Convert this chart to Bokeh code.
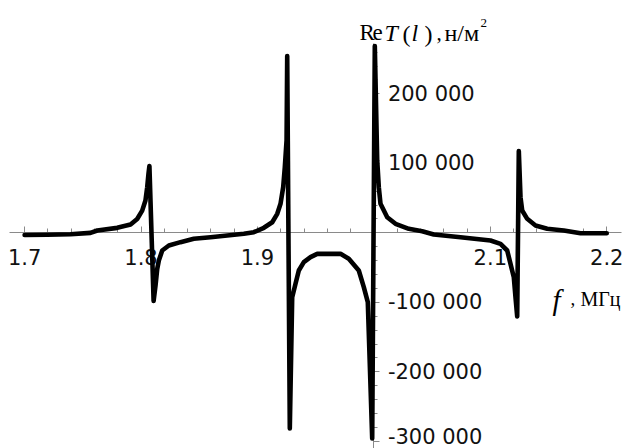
from bokeh.plotting import figure
from bokeh.models import (FixedTicker, CustomJSTickFormatter, Label, Range1d,
                          LinearAxis, ColumnDataSource)
from bokeh.embed import file_html
from bokeh.resources import INLINE

# Re T(l) [N/m^2] versus frequency f [MHz]
freq_mhz = [
    1.7000, 1.7194, 1.7394, 1.7566, 1.7624, 1.7795, 1.7910, 1.7967, 1.8010,
    1.8038, 1.8053, 1.8064, 1.8072, 1.8108, 1.8125, 1.8139, 1.8153, 1.8182,
    1.8239, 1.8339, 1.8453, 1.8597, 1.8740, 1.8883, 1.8969, 1.9055, 1.9127,
    1.9170, 1.9198, 1.9221, 1.9235, 1.9250, 1.92555, 1.92778, 1.92984,
    1.93268, 1.93551, 1.93981, 1.94556, 1.95131, 1.97133, 1.97845, 1.98704,
    1.99134, 1.99477, 1.99855, 2.00079, 2.00285, 2.00422, 2.00568, 2.01144,
    2.01857, 2.02999, 2.04150, 2.05146, 2.07439, 2.10016, 2.10875, 2.11450,
    2.11734, 2.12018, 2.12163, 2.12309, 2.12447, 2.12593, 2.12738, 2.13168,
    2.13881, 2.14886, 2.16312, 2.17746, 2.20000,
]
re_t = [
    -3000, -2800, -2000, 0, 3400, 7200, 12000, 20000, 32000,
    46600, 65700, 85000, 96000, -98000, -75000, -52000, -39800, -25400,
    -18200, -13400, -8600, -6300, -3800, -1400, 900, 7300, 15300,
    27400, 41800, 65700, 94500, 132900, 254500, -281600, -92600,
    -73300, -54200, -42200, -35000, -30200, -30200, -37300, -54200,
    -78200, -99800, -295900, 268900, 104100, 65700, 41800, 22500,
    13000, 5800, 2400, -2400, -6300, -11000, -15800, -25400,
    -44600, -63800, -92600, -120400, 117800, 51300, 32200, 20200,
    10600, 5800, 3400, -500, -500,
]

x_ticks = [1.7, 1.8, 1.9, 2.0, 2.1, 2.2]
x_tick_labels = ["1.7", "1.8", "1.9", "", "2.1", "2.2"]
x_minor = [round(1.7 + 0.02 * i, 2) for i in range(26)]

y_ticks = [-300000, -200000, -100000, 0, 100000, 200000]
y_tick_labels = ["-300 000", "-200 000", "-100 000", "", "100 000", "200 000"]
y_minor = [-300000 + 20000 * i for i in range(29)]

W, H = 630, 448
X_LO, X_HI = 1.6793, 2.2204
Y_LO, Y_HI = -310330, 334360


def at_px(px, py):
    """Canvas pixel position -> data coordinates (frame fills the canvas)."""
    return (X_LO + px / W * (X_HI - X_LO), Y_HI - py / H * (Y_HI - Y_LO))


p = figure(width=W, height=H, x_range=Range1d(X_LO, X_HI),
           y_range=Range1d(Y_LO, Y_HI), output_backend="svg",
           toolbar_location=None, x_axis_location=None, y_axis_location=None,
           min_border=0, outline_line_color=None,
           background_fill_color="white", border_fill_color="white")
p.grid.visible = False

label_js = """
const i = t.findIndex(v => Math.abs(v - tick) < 1e-6 * Math.max(1, Math.abs(v)));
return i >= 0 ? l[i] : "";
"""

axis_grey = "#8a8a8a"

xaxis = LinearAxis(
    fixed_location=0,
    ticker=FixedTicker(ticks=x_ticks, minor_ticks=x_minor),
    formatter=CustomJSTickFormatter(args=dict(t=x_ticks, l=x_tick_labels), code=label_js),
    bounds=(1.687, 2.213),
    axis_line_color=axis_grey, axis_line_width=1,
    major_tick_line_color=axis_grey, minor_tick_line_color=axis_grey,
    major_tick_in=6, major_tick_out=0, minor_tick_in=4, minor_tick_out=0,
    major_label_text_font="DejaVu Sans", major_label_text_font_size="21px",
    major_label_text_color="#111111", major_label_standoff=16,
)
p.add_layout(xaxis, "below")

yaxis = LinearAxis(
    fixed_location=2.0,
    ticker=FixedTicker(ticks=y_ticks, minor_ticks=y_minor),
    formatter=CustomJSTickFormatter(args=dict(t=y_ticks, l=y_tick_labels), code=label_js),
    bounds=(-312000, 272000),
    axis_line_color=axis_grey, axis_line_width=1,
    major_tick_line_color=axis_grey, minor_tick_line_color=axis_grey,
    major_tick_in=0, major_tick_out=6, minor_tick_in=0, minor_tick_out=4,
    major_label_text_font="DejaVu Sans", major_label_text_font_size="21px",
    major_label_text_color="#111111", major_label_standoff=8,
)
p.add_layout(yaxis, "right")

src = ColumnDataSource(dict(f=freq_mhz, t=re_t))
p.line("f", "t", source=src, line_color="black", line_width=4.6,
       line_join="round", line_cap="round", level="overlay")

serif = "Liberation Serif"


def put(text, px, py, size, style="normal"):
    x, y = at_px(px, py)
    p.add_layout(Label(x=x, y=y, text=text, text_font=serif,
                       text_font_size=f"{size}px", text_font_style=style,
                       text_color="black", text_align="left",
                       text_baseline="alphabetic"))


# y-axis title: Re T(l), н/м²
put("R", 359, 32, 23)
put("e", 372, 32, 23)
put("T", 384, 32, 24, "italic")
put("(", 402, 33, 24)
put("l", 411, 32, 24, "italic")
put(")", 424, 33, 24)
put(",", 436, 32, 21)
put("н/м", 444, 32, 24)
put("2", 480, 22, 13)

# x-axis title: f, МГц
put("f", 552, 299, 29, "italic")
put(",", 570, 298, 19)
put("МГц", 580, 298, 20)

open("out.html", "w").write(file_html(p, INLINE))
